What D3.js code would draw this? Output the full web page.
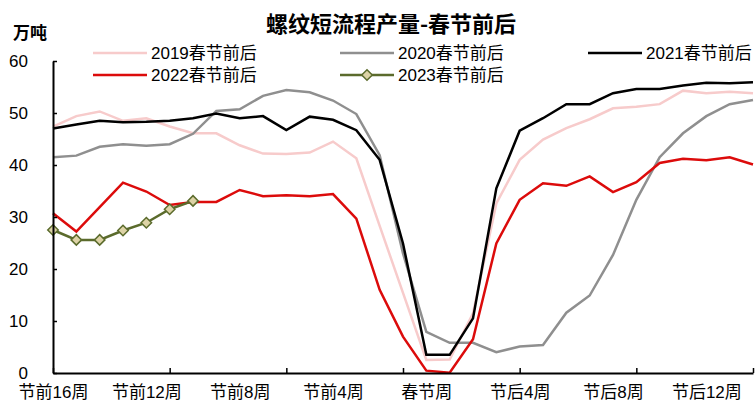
<!DOCTYPE html>
<html>
<head>
<meta charset="utf-8">
<script src="https://cdn.jsdelivr.net/npm/d3@7"></script>
<style>
  body { margin: 0; background: #fff; }
  svg { display: block; font-family: "Liberation Sans", "Noto Sans CJK SC", sans-serif; }
</style>
</head>
<body>
<svg id="chart" width="756" height="407"></svg>
<script>
// weeks around Spring Festival
const weeks = [];
for (let i = 16; i >= 1; i--) weeks.push("节前" + i + "周");
weeks.push("春节周");
for (let i = 1; i <= 14; i++) weeks.push("节后" + i + "周");

const y2019 = [47.4, 49.4, 50.3, 48.5, 49.0, 47.4, 46.1, 46.1, 43.8, 42.2, 42.1, 42.4, 44.5, 41.3, 28.3, 15.4,
  2.5, 2.6, 11.5, 32.6, 41.0, 44.9, 47.1, 48.8, 50.9, 51.2, 51.7, 54.3, 53.8, 54.1, 53.8];
const y2020 = [41.5, 41.8, 43.5, 44.0, 43.7, 44.0, 46.0, 50.4, 50.7, 53.3, 54.4, 54.0, 52.4, 49.8, 41.9, 23.0,
  7.9, 5.8, 5.8, 4.0, 5.1, 5.4, 11.6, 14.9, 22.7, 33.3, 41.5, 46.1, 49.4, 51.7, 52.5];
const y2021 = [47.0, 47.8, 48.5, 48.2, 48.3, 48.5, 49.0, 49.9, 49.0, 49.4, 46.7, 49.3, 48.7, 46.7, 41.0, 24.9,
  3.5, 3.5, 10.5, 35.5, 46.6, 49.0, 51.7, 51.7, 53.8, 54.6, 54.6, 55.3, 55.8, 55.7, 55.9];
const y2022 = [30.7, 27.2, 31.9, 36.6, 34.9, 32.3, 32.9, 32.9, 35.2, 34.0, 34.2, 34.0, 34.4, 29.7, 16.0, 7.0,
  0.45, 0.06, 6.5, 24.9, 33.3, 36.5, 36.0, 37.8, 34.8, 36.7, 40.4, 41.2, 40.9, 41.5, 40.1];
const y2023 = [27.5, 25.6, 25.6, 27.4, 28.9, 31.5, 33.1];

const yTicks = [0, 10, 20, 30, 40, 50, 60];

const series = [
  { name: "2019春节前后", values: y2019, color: "#f7cbcb", row: 0, lx: 93 },
  { name: "2020春节前后", values: y2020, color: "#8f8f8f", row: 0, lx: 340 },
  { name: "2021春节前后", values: y2021, color: "#000000", row: 0, lx: 588 },
  { name: "2022春节前后", values: y2022, color: "#dc0b0b", row: 1, lx: 93 },
  { name: "2023春节前后", values: y2023, color: "#5b6b2c", row: 1, lx: 340, marker: true }
];

const svg = d3.select("#chart");

const x = d3.scalePoint().domain(weeks).range([53, 753]);
const y = d3.scaleLinear().domain([0, 60]).range([373, 61]);

// title + unit
svg.append("text")
  .attr("x", 391).attr("y", 32)
  .attr("text-anchor", "middle")
  .attr("font-size", 22).attr("font-weight", "bold")
  .attr("font-family", "Noto Sans CJK SC")
  .text("螺纹短流程产量-春节前后");

svg.append("text")
  .attr("x", 13).attr("y", 39)
  .attr("font-size", 17).attr("font-weight", "bold")
  .attr("font-family", "Noto Sans CJK SC")
  .text("万吨");

// lines
const line = d3.line()
  .x((d, i) => x(weeks[i]))
  .y(d => y(d));

series.forEach(s => {
  svg.append("path")
    .datum(s.values)
    .attr("fill", "none")
    .attr("stroke", s.color)
    .attr("stroke-width", 2.5)
    .attr("stroke-linejoin", "miter")
    .attr("d", line);
});

// diamonds for 2023
const diamond = d3.symbol().type(d3.symbolDiamond2).size(70);
svg.append("g")
  .selectAll("path")
  .data(y2023)
  .join("path")
  .attr("transform", (d, i) => `translate(${x(weeks[i])},${y(d)})`)
  .attr("d", diamond)
  .attr("fill", "#ddd3a6")
  .attr("stroke", "#5b6b2c")
  .attr("stroke-width", 1.5);

// y axis
svg.append("g")
  .attr("transform", "translate(53,0)")
  .call(d3.axisLeft(y).tickValues(yTicks).tickSizeInner(-4).tickSizeOuter(0).tickPadding(25))
  .call(g => g.select(".domain").attr("stroke-width", 2))
  .call(g => g.selectAll(".tick line").attr("stroke-width", 1.5))
  .call(g => g.selectAll(".tick text").attr("font-size", 17).attr("fill", "#000")
    .attr("font-family", "Liberation Sans"));

// x axis: tick marks every 5 weeks, labels every 4 weeks
svg.append("g")
  .attr("transform", "translate(0,373)")
  .call(d3.axisBottom(x).tickValues(weeks.filter((d, i) => i % 5 === 0))
    .tickSizeInner(-5).tickSizeOuter(0).tickFormat(""))
  .call(g => g.select(".domain").attr("stroke-width", 2))
  .call(g => g.selectAll(".tick line").attr("stroke-width", 1.5));

svg.append("g")
  .attr("transform", "translate(0,373)")
  .call(d3.axisBottom(x).tickValues(weeks.filter((d, i) => i % 4 === 0))
    .tickSize(0).tickPadding(13))
  .call(g => g.select(".domain").remove())
  .call(g => g.selectAll(".tick text").attr("font-size", 17).attr("fill", "#000")
    .attr("font-family", "Liberation Sans, Noto Sans CJK SC"));

// legend
const legend = svg.append("g")
  .selectAll("g")
  .data(series)
  .join("g")
  .attr("transform", d => `translate(${d.lx},${53 + d.row * 22})`);

legend.append("line")
  .attr("x1", 0).attr("x2", 54)
  .attr("stroke", d => d.color)
  .attr("stroke-width", 2.5);

legend.filter(d => d.marker)
  .append("path")
  .attr("transform", "translate(27,0)")
  .attr("d", diamond)
  .attr("fill", "#ddd3a6")
  .attr("stroke", "#5b6b2c")
  .attr("stroke-width", 1.5);

legend.append("text")
  .attr("x", 58)
  .attr("dy", "0.36em")
  .attr("font-size", 17)
  .text(d => d.name);
</script>
</body>
</html>
